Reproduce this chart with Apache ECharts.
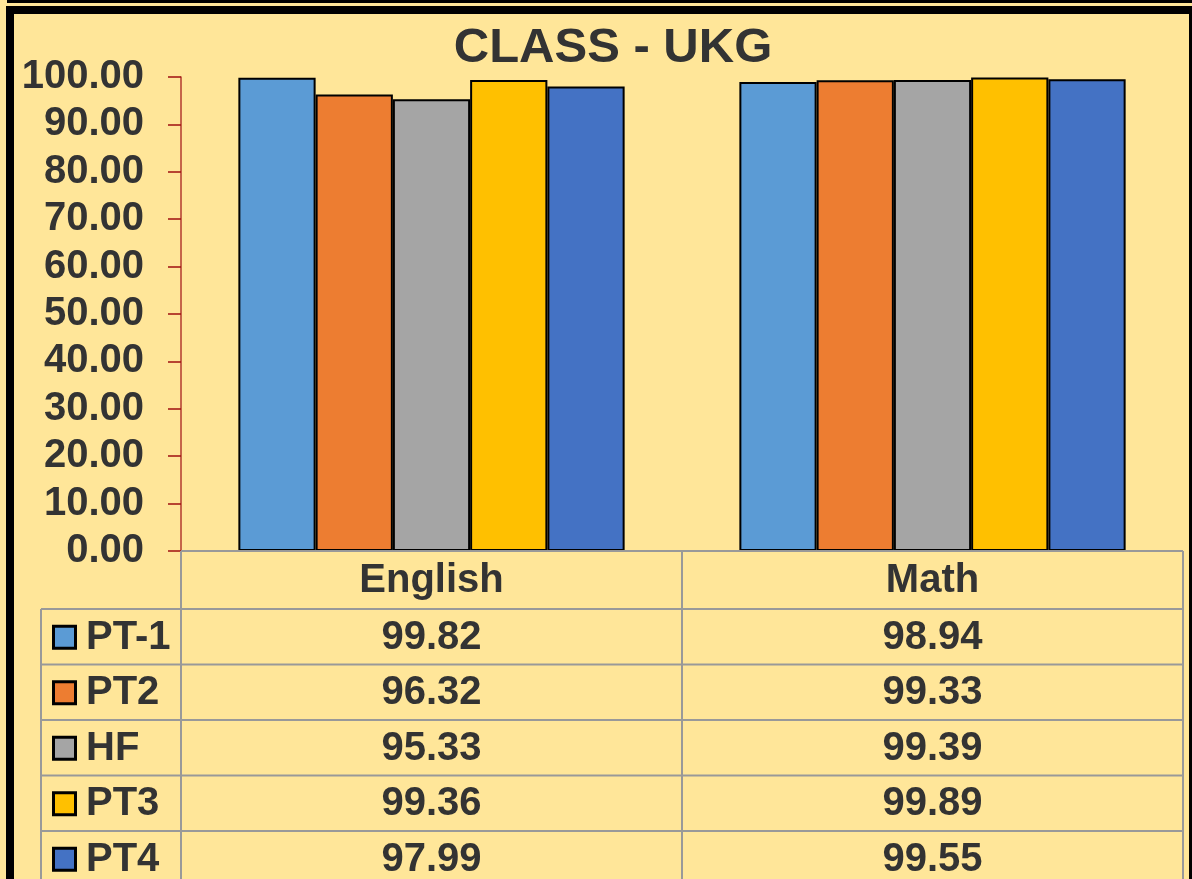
<!DOCTYPE html>
<html>
<head>
<meta charset="utf-8">
<title>CLASS - UKG</title>
<script src="https://cdn.jsdelivr.net/npm/echarts@6/dist/echarts.min.js"></script>
<style>
  html, body { margin: 0; padding: 0; background: #FFE699; }
  #main { width: 1192px; height: 879px; }
</style>
</head>
<body>
<div id="main"></div>
<script>
var subjects = ['English', 'Math'];
var testNames = ['PT-1', 'PT2', 'HF', 'PT3', 'PT4'];
var pt1 = [99.82, 98.94];
var pt2 = [96.32, 99.33];
var hf  = [95.33, 99.39];
var pt3 = [99.36, 99.89];
var pt4 = [97.99, 99.55];
var yTicks = [0, 10, 20, 30, 40, 50, 60, 70, 80, 90, 100];

var seriesData = [pt1, pt2, hf, pt3, pt4];
var colors = ['#5B9BD5', '#ED7D31', '#A5A5A5', '#FFC000', '#4472C4'];

var font = '"Liberation Sans", Arial, sans-serif';
var txt = '#333333';
var lineCol = '#999999';

// layout of plot + data table
var plotL = 181, plotR = 1183, plotTop = 77, plotBot = 551;
var legL = 41;
var headH = 58, rowH = 55.5;

var myChart = echarts.init(document.getElementById('main'));

var graphics = [];
// frame
graphics.push({ type: 'rect', shape: { x: 7, y: 0, width: 1185, height: 3 }, style: { fill: '#000' }, z: 10 });
graphics.push({ type: 'rect', shape: { x: 6, y: 6, width: 1186, height: 8 }, style: { fill: '#000' }, z: 10 });
graphics.push({ type: 'rect', shape: { x: 6, y: 6, width: 8, height: 873 }, style: { fill: '#000' }, z: 10 });
graphics.push({ type: 'rect', shape: { x: 1189, y: 6, width: 3, height: 873 }, style: { fill: '#000' }, z: 10 });
// title
graphics.push({
  type: 'text', x: 613, y: 48,
  style: { text: 'CLASS - UKG', font: 'bold 49px ' + font, fill: txt, textAlign: 'center', textVerticalAlign: 'middle' }
});

// table grid lines
var catW = (plotR - plotL) / subjects.length;
var nRows = testNames.length;
var tableBot = plotBot + headH + rowH * nRows;
function hline(x1, x2, y) {
  graphics.push({ type: 'line', shape: { x1: x1, y1: y, x2: x2, y2: y }, style: { stroke: lineCol, lineWidth: 2 }, z: 5 });
}
function vline(x, y1, y2) {
  graphics.push({ type: 'line', shape: { x1: x, y1: y1, x2: x, y2: y2 }, style: { stroke: lineCol, lineWidth: 2 }, z: 5 });
}
hline(plotL, plotR, plotBot);
for (var r = 0; r <= nRows; r++) {
  hline(legL, plotR, plotBot + headH + rowH * r);
}
vline(legL, plotBot + headH, tableBot);
for (var c = 0; c <= subjects.length; c++) {
  vline(plotL + catW * c, plotBot, tableBot);
}
// header cells
subjects.forEach(function (s, i) {
  graphics.push({
    type: 'text', x: plotL + catW * (i + 0.5), y: plotBot + headH / 2 + 1,
    style: { text: s, font: 'bold 40px ' + font, fill: txt, textAlign: 'center', textVerticalAlign: 'middle' }
  });
});
// rows: legend key + values
testNames.forEach(function (name, r) {
  var cy = plotBot + headH + rowH * (r + 0.5) + 1;
  graphics.push({
    type: 'rect', shape: { x: 53.5, y: cy - 11.5, width: 22, height: 22 },
    style: { fill: colors[r], stroke: '#000', lineWidth: 3 }, z: 6
  });
  graphics.push({
    type: 'text', x: 86, y: cy,
    style: { text: name, font: 'bold 40px ' + font, fill: txt, textAlign: 'left', textVerticalAlign: 'middle' }
  });
  seriesData[r].forEach(function (v, i) {
    graphics.push({
      type: 'text', x: plotL + catW * (i + 0.5), y: cy,
      style: { text: v.toFixed(2), font: 'bold 40px ' + font, fill: txt, textAlign: 'center', textVerticalAlign: 'middle' }
    });
  });
});

myChart.setOption({
  backgroundColor: '#FFE699',
  animation: false,
  grid: { left: plotL, right: 1192 - plotR, top: plotTop, bottom: 879 - plotBot, containLabel: false },
  xAxis: {
    type: 'category',
    data: subjects,
    axisLine: { show: false },
    axisTick: { show: false },
    axisLabel: { show: false },
    splitLine: { show: false }
  },
  yAxis: {
    type: 'value',
    min: yTicks[0],
    max: yTicks[yTicks.length - 1],
    interval: yTicks[1] - yTicks[0],
    axisLine: { show: true, lineStyle: { color: '#B23A30', width: 1.5 } },
    axisTick: { show: true, length: 13, lineStyle: { color: '#A01010', width: 1.5 } },
    axisLabel: {
      margin: 37,
      color: txt,
      fontSize: 40,
      fontWeight: 'bold',
      fontFamily: font,
      formatter: function (v) { return v.toFixed(2); }
    },
    splitLine: { show: false }
  },
  series: testNames.map(function (name, i) {
    return {
      name: name,
      type: 'bar',
      data: seriesData[i],
      barGap: '0%',
      barCategoryGap: '22.9%',
      itemStyle: { color: colors[i], borderColor: '#000', borderWidth: 2 }
    };
  }),
  graphic: graphics
});
</script>
</body>
</html>
